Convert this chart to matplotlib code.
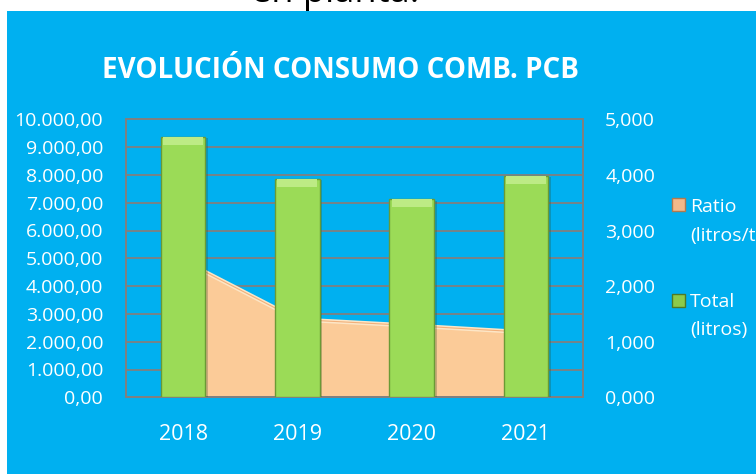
import numpy as np
import matplotlib
matplotlib.use("Agg")
import matplotlib.pyplot as plt
import matplotlib.ticker as ticker
import matplotlib.patheffects as pe
from matplotlib.patches import Rectangle

plt.rcParams["font.family"] = ["Open Sans", "DejaVu Sans"]

YEARS = ["2018", "2019", "2020", "2021"]
TOTAL = [9370, 7850, 7120, 7960]        # litros (left axis)
RATIO = [2.46, 1.40, 1.29, 1.17]        # litros/t (right axis)

BLUE = "#00B0F0"
GREEN = "#9BDB57"
GREEN_EDGE = "#6A9A35"
PEACH = "#FBCB98"
GRID = "#808080"
BEVEL = 280   # height of the light top band on each bar, in litros

fig = plt.figure(figsize=(7.56, 4.74), dpi=100, facecolor=BLUE)

# white page strips around the chart
fig.add_artist(Rectangle((0, 1 - 11 / 474), 1, 11 / 474, transform=fig.transFigure,
                         facecolor="white", edgecolor="none", zorder=0))
fig.add_artist(Rectangle((0, 0), 7 / 756, 1, transform=fig.transFigure,
                         facecolor="white", edgecolor="none", zorder=0))
fig.text(335 / 756, 1 - 2 / 474, "en planta.", fontsize=26, color="black",
         ha="center", va="baseline", zorder=1)

ax = fig.add_axes([126 / 756, 1 - 397.3 / 474, 457 / 756, 278 / 474])
ax2 = ax.twinx()
ax.set_zorder(ax2.get_zorder() + 1)
ax.patch.set_visible(False)
ax2.set_facecolor("white")

x = np.arange(len(YEARS))

# area (ratio) on secondary axis, behind the bars
ax2.fill_between(x, RATIO, color=PEACH, linewidth=0, zorder=2)
ax2.plot(x, RATIO, color="#FDE6C6", linewidth=3, zorder=3)
ax2.plot(x, RATIO, color="#F2B07A", linewidth=0.8, zorder=3)

# bars (total) with a light bevel band on top
ax.bar(x, TOTAL, width=0.39, color=GREEN, edgecolor=GREEN_EDGE, linewidth=1.0, zorder=3,
       path_effects=[pe.SimplePatchShadow(offset=(2, -1), alpha=0.25), pe.Normal()])
ax.bar(x, BEVEL, bottom=np.array(TOTAL) - BEVEL, width=0.35, color="#BDEB85",
       linewidth=0, zorder=4)

ax.set_xlim(-0.5, 3.5)
ax.set_ylim(0, 10000)
ax2.set_ylim(0, 5)
ax.yaxis.set_major_locator(ticker.MultipleLocator(1000))
ax2.yaxis.set_major_locator(ticker.MultipleLocator(1))
ax2.yaxis.set_minor_locator(ticker.MultipleLocator(0.5))
ax2.grid(which="both", axis="y", color=GRID, linewidth=1.3, zorder=1)
ax2.set_axisbelow(True)

ax.yaxis.set_major_formatter(ticker.FuncFormatter(
    lambda v, p: f"{v:,.2f}".replace(",", "X").replace(".", ",").replace("X", ".")))
ax2.yaxis.set_major_formatter(ticker.FuncFormatter(
    lambda v, p: f"{v:.3f}".replace(".", ",")))

ax.set_xticks(x)
ax.set_xticklabels(YEARS)
ax.tick_params(axis="x", length=0, pad=19, labelsize=15.5, labelcolor="white")
ax.tick_params(axis="y", length=0, pad=16.5, labelsize=14, labelcolor="white")
ax2.tick_params(axis="y", which="both", length=0, pad=16, labelsize=14, labelcolor="white")

for a in (ax, ax2):
    for s in a.spines.values():
        s.set_color(GRID)
        s.set_linewidth(1.3)

fig.text(341 / 756, 1 - 71 / 474, "EVOLUCIÓN CONSUMO COMB. PCB", fontsize=20,
         fontweight="bold", color="white", ha="center", va="center")

# legend, drawn by hand (it runs off the right edge like the reference)
LEG_LABELS = ["Ratio\n(litros/t)", "Total\n(litros)"]
LEG_FACE = ["#F2B98A", "#8CCB4A"]
LEG_EDGE = ["#B07A50", "#4F7A25"]
LEG_TOP = [205, 300]
for lab, fc, ec, ty in zip(LEG_LABELS, LEG_FACE, LEG_EDGE, LEG_TOP):
    fig.add_artist(Rectangle((672 / 756, 1 - (ty + 6.5) / 474), 13 / 756, 13 / 474,
                             transform=fig.transFigure, facecolor=fc, edgecolor=ec,
                             linewidth=1))
    fig.text(690 / 756, 1 - (ty - 7) / 474, lab, fontsize=14, color="white",
             ha="left", va="top", linespacing=1.75)

fig.savefig("out.png", dpi=100, facecolor=BLUE)
